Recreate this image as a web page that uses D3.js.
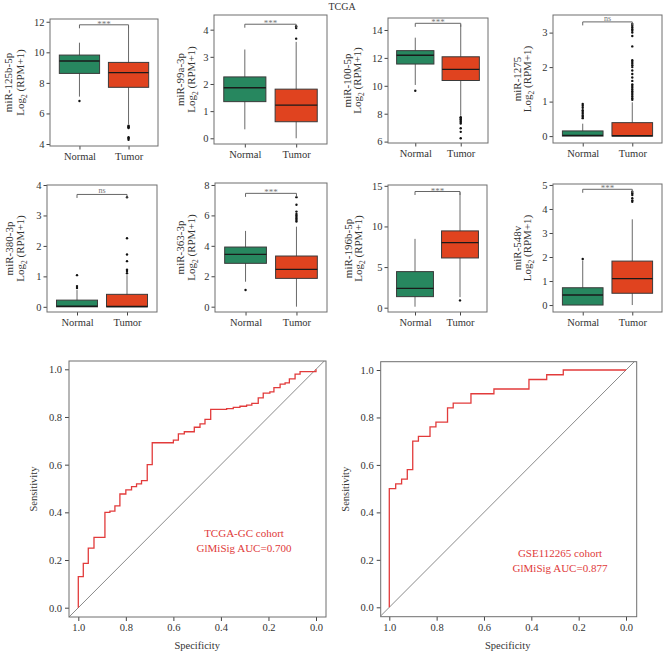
<!DOCTYPE html>
<html><head><meta charset="utf-8">
<script src="https://cdn.jsdelivr.net/npm/d3@7"></script>
<style>body{margin:0;background:#fff}svg{display:block}text{font-family:"Liberation Serif","DejaVu Serif",serif}</style>
</head><body><svg id="c" width="666" height="652"></svg>
<script>
// ---------- data ----------
const genes = ["miR-125b-5p","miR-99a-3p","miR-100-5p","miR-1275","miR-380-3p","miR-363-3p","miR-196b-5p","miR-548v"];
const groups = ["Normal","Tumor"];
// [lower whisker, Q1, median, Q3, upper whisker]
const boxNormal = [
  [7.1, 8.62, 9.43, 9.82, 10.63],
  [0.33, 1.35, 1.86, 2.26, 3.27],
  [10.06, 11.56, 12.19, 12.52, 13.45],
  [0, 0, 0.02, 0.15, 0.36],
  [0, 0, 0.02, 0.22, 0.55],
  [1.64, 2.85, 3.44, 3.92, 4.98],
  [0.12, 1.36, 2.38, 4.44, 8.47],
  [0, 0, 0.42, 0.72, 1.85]
];
const boxTumor = [
  [5.3, 7.71, 8.67, 9.34, 11.7],
  [0, 0.61, 1.22, 1.81, 3.55],
  [7.85, 10.38, 11.18, 12.08, 14.4],
  [0, 0, 0.01, 0.39, 0.98],
  [0, 0, 0.01, 0.41, 1.04],
  [0, 1.86, 2.45, 3.33, 5.26],
  [1.3, 6.12, 8.01, 9.45, 14.2],
  [0, 0.49, 1.1, 1.83, 3.57]
];
const outNormal = [
  [6.81], [], [9.65],
  [0.52,0.56,0.6,0.65,0.7,0.75,0.82,0.88,0.93],
  [0.62,0.68,1.04], [1.1], [], [1.92]
];
const outTumor = [
  [5.05,5.1,5.15,5.2,4.45,4.38,4.28],
  [3.67,4.06,4.13],
  [7.75,7.7,7.6,7.5,7.4,7.3,6.96,6.7,6.24],
  [1.05,1.1,1.15,1.2,1.25,1.3,1.35,1.4,1.45,1.5,1.6,1.7,1.8,1.9,2.0,2.05,2.1,2.15,2.2,2.6,2.9,3.0,3.05,3.1,3.15,3.2,3.25],
  [1.1,1.18,1.22,1.5,1.72,2.25,3.6],
  [5.6,5.7,5.8,5.9,6.0,6.1,6.25,6.7,7.2],
  [0.9],
  [4.3,4.36,4.45,4.58,4.66,4.72]
];
const bracketValue = [11.8, 4.2, 14.48, 3.31, 3.69, 7.45, 14.3, 4.82];
const signif = ["***","***","***","ns","ns","***","***","***"];
const yTicks = [[4,6,8,10,12],[0,1,2,3,4],[6,8,10,12,14],[0,1,2,3],[0,1,2,3,4],[0,2,4,6,8],[0,5,10,15],[0,1,2,3,4,5]];
const yDomains = [[3.87,12.18],[-0.21,4.54],[5.9,14.86],[-0.2,3.51],[-0.17,4.0],[-0.35,8.13],[-0.53,15.1],[-0.29,5.04]];

const rocSpecTCGA = [1,1,0.979,0.958,0.934,0.888,0.867,0.846,0.825,0.80,0.776,0.755,0.734,0.71,0.689,0.60,0.579,0.554,0.512,0.488,0.467,0.443,0.376,0.348,0.32,0.292,0.27,0.243,0.222,0.194,0.177,0.151,0.13,0.112,0.088,0.067,0];
const rocSensTCGA = [0,0.13,0.186,0.25,0.295,0.40,0.405,0.427,0.477,0.494,0.508,0.519,0.533,0.60,0.692,0.703,0.729,0.738,0.757,0.771,0.79,0.832,0.835,0.84,0.845,0.85,0.857,0.88,0.9,0.905,0.923,0.938,0.943,0.96,0.98,0.99,1.0];
const rocSpecGSE = [1,1,0.973,0.948,0.924,0.901,0.877,0.828,0.803,0.754,0.73,0.655,0.558,0.41,0.335,0.265,0];
const rocSensGSE = [0,0.5,0.52,0.54,0.58,0.70,0.72,0.76,0.78,0.84,0.86,0.90,0.92,0.96,0.98,1.0,1.0];
const rocTicks = [1.0,0.8,0.6,0.4,0.2,0.0];
const rocLabels = [["TCGA-GC cohort","GlMiSig AUC=0.700"],["GSE112265 cohort","GlMiSig AUC=0.877"]];

// ---------- layout ----------
const frames = [
  {l:50,r:158,t:19,b:146,lx1:8,lx2:20},
  {l:214,r:327,t:15,b:144,lx1:180,lx2:191},
  {l:388,r:488,t:18,b:143,lx1:347,lx2:357},
  {l:553,r:662,t:15,b:143,lx1:517,lx2:527},
  {l:47,r:157,t:185,b:312,lx1:9,lx2:20},
  {l:215,r:327,t:183,b:312,lx1:180,lx2:191},
  {l:388,r:487,t:185,b:312,lx1:348,lx2:358},
  {l:553,r:662,t:184,b:312,lx1:517,lx2:527}
];
const green = "#27875f", red = "#e0431f";
const frameCol = "#6e6e6e", tickCol = "#444", textCol = "#333";

const svg = d3.select("#c");
svg.append("text").attr("x",342).attr("y",10).attr("text-anchor","middle")
  .attr("font-size",10).attr("fill",textCol).text("TCGA");

genes.forEach((g,i)=>{
  const f = frames[i];
  const x = d3.scalePoint().domain(groups).range([f.l,f.r]).padding(0.6);
  const y = d3.scaleLinear().domain(yDomains[i]).range([f.b,f.t]);
  const gp = svg.append("g");
  const bw = x.step()*0.82;
  // y axis
  const ya = gp.append("g").attr("transform",`translate(${f.l},0)`)
    .call(d3.axisLeft(y).tickValues(yTicks[i]).tickSize(3.5).tickPadding(2).tickFormat(d3.format("d")));
  ya.select(".domain").remove();
  ya.selectAll("line").attr("stroke",tickCol);
  ya.selectAll("text").attr("font-size",10.5).attr("fill",textCol).attr("font-family","Liberation Serif");
  // x axis
  const xa = gp.append("g").attr("transform",`translate(0,${f.b})`)
    .call(d3.axisBottom(x).tickSize(3.5).tickPadding(3));
  xa.select(".domain").remove();
  xa.selectAll("line").attr("stroke",tickCol);
  xa.selectAll("text").attr("font-size",10.5).attr("fill",textCol).attr("font-family","Liberation Serif");
  // boxes
  [[boxNormal[i],outNormal[i],green,"Normal"],[boxTumor[i],outTumor[i],red,"Tumor"]].forEach(([s,outs,col,grp])=>{
    const cx = x(grp);
    gp.append("line").attr("x1",cx).attr("x2",cx).attr("y1",y(s[0])).attr("y2",y(s[4]))
      .attr("stroke","#6a6a6a").attr("stroke-width",1);
    gp.append("rect").attr("x",cx-bw/2).attr("width",bw)
      .attr("y",y(s[3])).attr("height",Math.max(1.5,y(s[1])-y(s[3])))
      .attr("fill",col).attr("stroke","#3a3a3a").attr("stroke-width",1);
    gp.append("line").attr("x1",cx-bw/2).attr("x2",cx+bw/2).attr("y1",y(s[2])).attr("y2",y(s[2]))
      .attr("stroke","#1a1a1a").attr("stroke-width",1.4);
    gp.selectAll(null).data(outs).enter().append("circle")
      .attr("cx",cx).attr("cy",d=>y(d)).attr("r",1.2).attr("fill","#111");
  });
  // bracket
  const by = y(bracketValue[i]);
  gp.append("path").attr("d",`M${x("Normal")},${by+3.5}V${by}H${x("Tumor")}V${by+3.5}`)
    .attr("fill","none").attr("stroke","#666").attr("stroke-width",1);
  gp.append("text").attr("x",(x("Normal")+x("Tumor"))/2).attr("y",by+ (signif[i]==="ns"?-1:2))
    .attr("text-anchor","middle").attr("font-size",signif[i]==="ns"?8:9).attr("fill","#777").text(signif[i]);
  // frame
  gp.append("rect").attr("x",f.l).attr("y",f.t).attr("width",f.r-f.l).attr("height",f.b-f.t)
    .attr("fill","none").attr("stroke",frameCol).attr("stroke-width",1);
  // y label
  const cy = (f.t+f.b)/2;
  gp.append("text").attr("transform",`translate(${f.lx1},${cy}) rotate(-90)`).attr("dy","0.35em")
    .attr("text-anchor","middle").attr("font-size",11).attr("fill",textCol).text(g);
  const t2 = gp.append("text").attr("transform",`translate(${f.lx2},${cy}) rotate(-90)`).attr("dy","0.35em")
    .attr("text-anchor","middle").attr("font-size",11).attr("fill",textCol);
  t2.append("tspan").text("Log");
  t2.append("tspan").attr("font-size",7.5).attr("dy",3).text("2");
  t2.append("tspan").attr("dy",-3).text(" (RPM+1)");
});

// ---------- ROC ----------
const rocFrames = [
  {l:69,r:326,t:361,b:617,x1:78.3,x0:316,y1:369.3,y0:607.7,sx:33,tx:244,ty:537},
  {l:380.7,r:636.7,t:361.7,b:616.7,x1:389.3,x0:626,y1:370,y0:607.3,sx:345,tx:560,ty:557}
];
const rocData = [[rocSpecTCGA,rocSensTCGA],[rocSpecGSE,rocSensGSE]];
rocFrames.forEach((f,k)=>{
  const x = d3.scaleLinear().domain([1,0]).range([f.x1,f.x0]);
  const y = d3.scaleLinear().domain([0,1]).range([f.y0,f.y1]);
  const g = svg.append("g");
  const clipId = "clip"+k;
  g.append("clipPath").attr("id",clipId).append("rect")
    .attr("x",f.l).attr("y",f.t).attr("width",f.r-f.l).attr("height",f.b-f.t);
  const sMin = x.invert(f.r), sMax = x.invert(f.l);
  g.append("line").attr("clip-path",`url(#${clipId})`)
    .attr("x1",x(sMax)).attr("y1",y(1-sMax)).attr("x2",x(sMin)).attr("y2",y(1-sMin))
    .attr("stroke","#8a8a8a").attr("stroke-width",1);
  const [sp,se] = rocData[k];
  const pts = sp.map((s,j)=>[s,se[j]]);
  g.append("path").datum(pts)
    .attr("d",d3.line().x(d=>x(d[0])).y(d=>y(d[1])).curve(d3.curveStepAfter))
    .attr("fill","none").attr("stroke","#e23b3b").attr("stroke-width",1.3);
  const xa = g.append("g").attr("transform",`translate(0,${f.b})`)
    .call(d3.axisBottom(x).tickValues(rocTicks).tickSize(4).tickPadding(3).tickFormat(d3.format(".1f")));
  xa.select(".domain").remove();
  xa.selectAll("line").attr("stroke",tickCol);
  xa.selectAll("text").attr("font-size",10.5).attr("fill",textCol).attr("font-family","Liberation Serif");
  const ya = g.append("g").attr("transform",`translate(${f.l},0)`)
    .call(d3.axisLeft(y).tickValues(rocTicks).tickSize(4).tickPadding(3).tickFormat(d3.format(".1f")));
  ya.select(".domain").remove();
  ya.selectAll("line").attr("stroke",tickCol);
  ya.selectAll("text").attr("font-size",10.5).attr("fill",textCol).attr("font-family","Liberation Serif");
  g.append("rect").attr("x",f.l).attr("y",f.t).attr("width",f.r-f.l).attr("height",f.b-f.t)
    .attr("fill","none").attr("stroke",frameCol).attr("stroke-width",1);
  g.append("text").attr("x",(f.x1+f.x0)/2).attr("y",649).attr("text-anchor","middle")
    .attr("font-size",10.5).attr("fill",textCol).text("Specificity");
  g.append("text").attr("transform",`translate(${f.sx},${(f.t+f.b)/2}) rotate(-90)`).attr("dy","0.35em")
    .attr("text-anchor","middle").attr("font-size",10.5).attr("fill",textCol).text("Sensitivity");
  rocLabels[k].forEach((t,j)=>{
    g.append("text").attr("x",f.tx).attr("y",f.ty+j*14.5).attr("text-anchor","middle")
      .attr("font-size",11).attr("fill","#e03a3a").text(t);
  });
});
</script></body></html>
